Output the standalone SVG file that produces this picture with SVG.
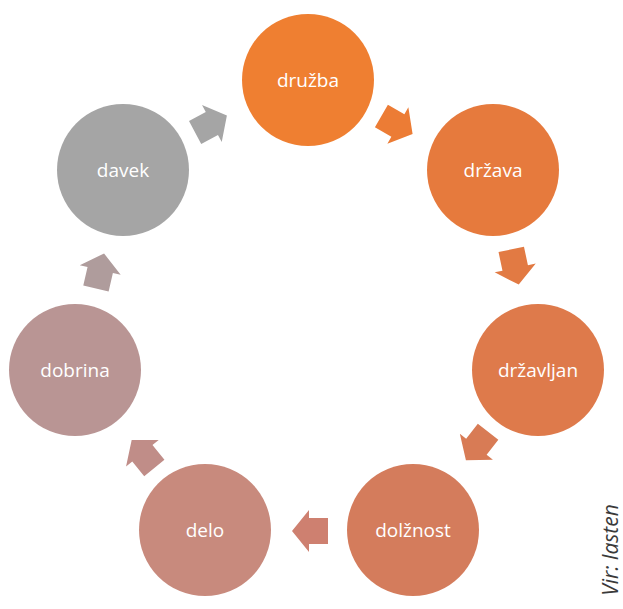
<svg xmlns="http://www.w3.org/2000/svg" width="623" height="609" viewBox="0 0 623 609">
<style>
.lbl{font-family:"Open Sans","Liberation Sans",sans-serif;font-size:19px;fill:#ffffff;text-anchor:middle;dominant-baseline:central}
.src{font-family:"Open Sans","Liberation Sans",sans-serif;font-size:21px;font-style:italic;fill:#3a3a3a;text-anchor:middle}
</style>
<defs>
<path id="arr" d="M-18,-13 L1,-13 L1,-21 L18,0 L1,21 L1,13 L-18,13 Z"/>
</defs>
<rect width="623" height="609" fill="#ffffff"/>
<g id="connectors">
<use href="#arr" fill="#EC7C35" transform="translate(397,125) rotate(30)"/>
<use href="#arr" fill="#E27A43" transform="translate(515,267) rotate(78)"/>
<use href="#arr" fill="#D87B55" transform="translate(477,446) rotate(128)"/>
<use href="#arr" fill="#CE8070" transform="translate(310,531) rotate(180)"/>
<use href="#arr" fill="#C08D88" transform="translate(143,454) rotate(231)"/>
<use href="#arr" fill="#AF9C9C" transform="translate(100,271) rotate(-77)"/>
<use href="#arr" fill="#A5A5A5" transform="translate(211,124) rotate(-28)"/>
</g>
<g id="n-druzba"><circle cx="308" cy="80" r="66" fill="#EF7F31"/><text class="lbl" x="308" y="80">družba</text></g>
<g id="n-drzava"><circle cx="493" cy="170" r="66" fill="#E67A3D"/><text class="lbl" x="493" y="170">država</text></g>
<g id="n-drzavljan"><circle cx="538" cy="370" r="66" fill="#DE7A4B"/><text class="lbl" x="538" y="370">državljan</text></g>
<g id="n-dolznost"><circle cx="413" cy="530" r="66" fill="#D47C5C"/><text class="lbl" x="413" y="530">dolžnost</text></g>
<g id="n-delo"><circle cx="205" cy="530" r="66" fill="#C88A7D"/><text class="lbl" x="205" y="530">delo</text></g>
<g id="n-dobrina"><circle cx="75" cy="370" r="66" fill="#B99594"/><text class="lbl" x="75" y="370">dobrina</text></g>
<g id="n-davek"><circle cx="123" cy="170" r="66" fill="#A5A5A5"/><text class="lbl" x="123" y="170">davek</text></g>
<text class="src" transform="translate(618,550) rotate(-90)">Vir: lasten</text>
</svg>
